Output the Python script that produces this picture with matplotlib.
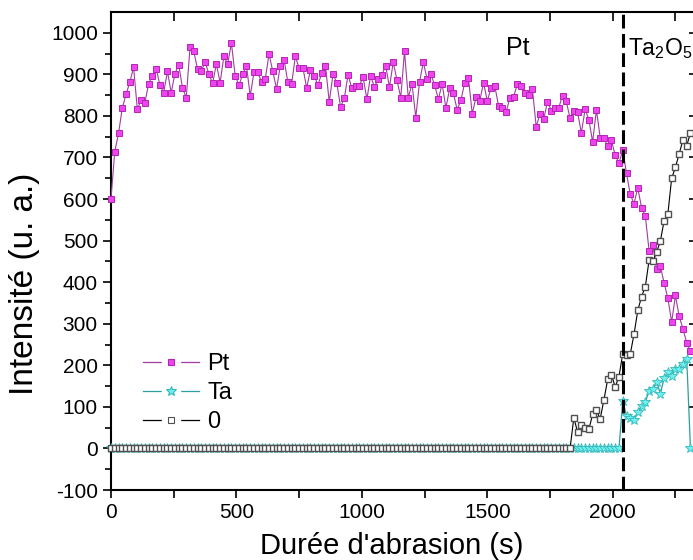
import matplotlib
matplotlib.use('Agg')
import matplotlib.pyplot as plt
import numpy as np
from matplotlib.lines import Line2D
from matplotlib.legend_handler import HandlerTuple

plt.rcParams['font.family'] = ['Liberation Sans', 'DejaVu Sans']
plt.rcParams['mathtext.fontset'] = 'custom'
plt.rcParams['mathtext.rm'] = 'Liberation Sans'
plt.rcParams['axes.unicode_minus'] = False

# Depth profile data (one sample every 15 s)
time_step = 15
pt = [601, 714, 758, 819, 852, 881, 917, 816, 838, 832,
      877, 897, 914, 874, 856, 907, 856, 902, 923, 867,
      844, 965, 955, 913, 908, 929, 902, 878, 925, 880,
      944, 925, 975, 897, 874, 900, 921, 848, 905, 905,
      882, 889, 949, 907, 865, 921, 935, 881, 877, 943,
      915, 916, 867, 911, 897, 874, 903, 920, 834, 900,
      880, 822, 842, 899, 866, 873, 873, 893, 840, 897,
      869, 889, 899, 921, 869, 929, 886, 844, 955, 844,
      877, 796, 882, 929, 889, 900, 875, 840, 877, 819,
      866, 854, 815, 838, 880, 891, 805, 845, 836, 880,
      836, 867, 872, 824, 819, 809, 843, 846, 877, 873,
      855, 850, 864, 774, 804, 792, 834, 813, 820, 820,
      849, 835, 794, 812, 809, 759, 816, 791, 737, 815,
      748, 746, 728, 741, 705, 687, 717, 662, 611, 589,
      627, 579, 559, 476, 489, 431, 438, 398, 361, 304,
      368, 318, 288, 254, 234]
ta = [0] * 136 + [114, 79, 74, 68, 87, 103, 112, 138, 142, 161,
                  132, 169, 185, 174, 191, 190, 203, 216, 0]
oxy = [0] * 123 + [74, 39, 56, 50, 46, 82, 92, 71, 117, 166,
                   177, 148, 173, 228, 225, 227, 275, 332, 365, 389,
                   453, 450, 472, 499, 548, 565, 650, 676, 709, 742,
                   728, 760]
time = np.arange(len(pt)) * time_step

interface = 2040  # Pt / Ta2O5 boundary

fig = plt.figure(figsize=(6.93, 5.60), dpi=100)
ax = fig.add_axes([111 / 693, 70 / 560, 587 / 693, 478 / 560])

# series
ax.plot(time, pt, color='#a13ca1', lw=0.8, marker='s', ms=4.6,
        mfc='#ee44ee', mec='#b425b4', mew=0.7, clip_on=False, zorder=3)
ax.plot(time, ta, color='#2e9e9e', lw=0.9, marker='*', ms=7,
        mfc='#6ff0f0', mec='#34b8b8', mew=0.6, clip_on=False, zorder=4)
ax.plot(time, oxy, color='black', lw=0.8, marker='s', ms=4.4,
        mfc='white', mec='#505050', mew=1.0, clip_on=False, zorder=5)

ax.axvline(interface, color='black', lw=2.2, dashes=(4.5, 1.8), zorder=6)

ax.text(1575, 946, 'Pt', fontsize=18, va='baseline', ha='left')
ax.text(2062, 946, r'Ta$_\mathregular{2}$O$_\mathregular{5}$', fontsize=16.5,
        va='baseline', ha='left')

# axes limits and ticks
ax.set_xlim(0, 2340)
ax.set_ylim(-100, 1050)
ax.set_xticks(np.arange(0, 2001, 500))
ax.set_xticks(np.arange(0, 2340, 250), minor=True)
ax.set_yticks(np.arange(-100, 1001, 100))
ax.set_yticks(np.arange(-100, 1050, 50), minor=True)
ax.tick_params(axis='both', which='major', direction='out', length=6,
               width=1.2, labelsize=15, top=False, right=False)
ax.tick_params(axis='y', which='minor', direction='out', length=4, width=1.2)
ax.tick_params(axis='x', which='minor', direction='out', length=6, width=1.2)

for side in ['top', 'right']:
    ax.spines[side].set_visible(False)
for side in ['left', 'bottom']:
    ax.spines[side].set_linewidth(1.5)

top = ax.secondary_xaxis('top')
top.set_xticks(np.arange(0, 2340, 250))
top.tick_params(direction='in', length=6.5, width=1.2, labeltop=False)
top.spines['top'].set_linewidth(1.5)

right = ax.secondary_yaxis('right')
right.set_yticks(np.arange(-100, 1001, 100))
right.tick_params(direction='in', length=6.5, width=1.2, labelright=False)
right.spines['right'].set_linewidth(1.5)

ax.set_xlabel("Durée d'abrasion (s)", fontsize=21)
ax.set_ylabel('Intensité (u. a.)', fontsize=24)
ax.xaxis.set_label_coords(0.479, -0.088)
ax.yaxis.set_label_coords(-0.121, 0.431)

# legend: line - marker - line with gaps around the marker
def legend_handle(line_color, marker, ms, mfc, mec):
    seg = Line2D([], [], color=line_color, lw=0.9)
    gap = Line2D([], [], ls='none', marker='s', ms=13, mfc='white', mec='white')
    mk = Line2D([], [], ls='none', marker=marker, ms=ms, mfc=mfc, mec=mec, mew=0.8)
    return (seg, gap, mk)

handles = [legend_handle('#a13ca1', 's', 5, '#ee44ee', '#b425b4'),
           legend_handle('#2e9e9e', '*', 7.5, '#6ff0f0', '#34b8b8'),
           legend_handle('black', 's', 4.8, 'white', '#505050')]
ax.legend(handles, ['Pt', 'Ta', '0'], handler_map={tuple: HandlerTuple(ndivide=1)},
          loc='upper left', bbox_to_anchor=(0.054, 0.286), frameon=False,
          fontsize=17, handlelength=2.4, handletextpad=0.33,
          labelspacing=0.3, borderpad=0, borderaxespad=0)

plt.savefig('out.png', dpi=100, facecolor='white')
